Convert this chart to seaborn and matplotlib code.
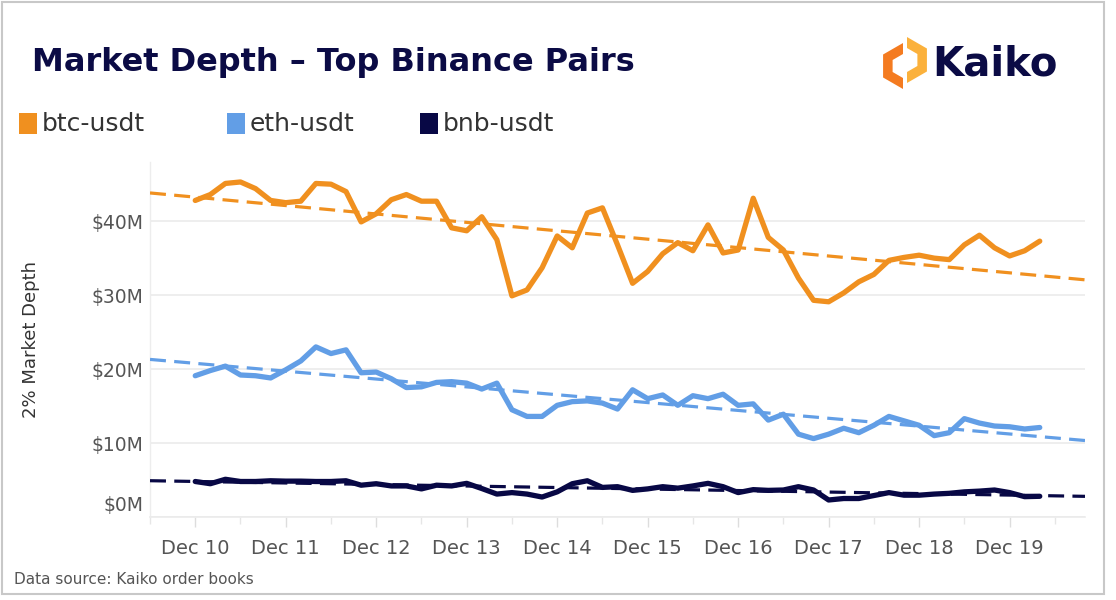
import numpy as np
import pandas as pd
import matplotlib
matplotlib.use("Agg")
import matplotlib.pyplot as plt
import matplotlib.dates as mdates
from matplotlib.patches import Rectangle, Polygon
from matplotlib.ticker import FixedLocator, FuncFormatter
from matplotlib.transforms import ScaledTranslation
import seaborn as sns

# 2% market depth, USD millions, one sample every 4 hours from Dec 10 00:00
btc_usdt = [42.8, 43.6, 45.1, 45.3, 44.4, 42.8, 42.5, 42.7, 45.1, 45.0,
            44.0, 39.9, 41.0, 42.9, 43.6, 42.7, 42.7, 39.1, 38.7, 40.6,
            37.5, 29.9, 30.7, 33.7, 38.0, 36.4, 41.1, 41.8, 36.8, 31.6,
            33.2, 35.6, 37.1, 36.0, 39.5, 35.7, 36.1, 43.1, 37.8, 36.1,
            32.3, 29.3, 29.1, 30.3, 31.8, 32.8, 34.7, 35.1, 35.4, 35.0,
            34.8, 36.8, 38.1, 36.4, 35.3, 36.0, 37.3]
eth_usdt = [19.1, 19.8, 20.4, 19.2, 19.1, 18.8, 19.9, 21.1, 23.0, 22.1,
            22.6, 19.5, 19.6, 18.7, 17.5, 17.6, 18.2, 18.3, 18.1, 17.3,
            18.1, 14.5, 13.6, 13.6, 15.1, 15.6, 15.7, 15.4, 14.6, 17.2,
            16.0, 16.5, 15.1, 16.4, 16.0, 16.6, 15.1, 15.3, 13.1, 13.9,
            11.2, 10.6, 11.2, 12.0, 11.4, 12.4, 13.6, 13.0, 12.4, 11.0,
            11.4, 13.3, 12.7, 12.3, 12.2, 11.9, 12.1]
bnb_usdt = [4.8, 4.5, 5.1, 4.8, 4.8, 4.9, 4.85, 4.85, 4.8, 4.8,
            4.9, 4.3, 4.5, 4.2, 4.2, 3.8, 4.3, 4.2, 4.55, 3.85,
            3.1, 3.3, 3.1, 2.7, 3.4, 4.5, 4.9, 4.0, 4.1, 3.6,
            3.8, 4.1, 3.9, 4.2, 4.55, 4.1, 3.3, 3.7, 3.6, 3.65,
            4.1, 3.65, 2.3, 2.5, 2.5, 2.9, 3.3, 2.95, 2.95, 3.1,
            3.2, 3.4, 3.5, 3.65, 3.3, 2.75, 2.8]
timestamps = pd.date_range("2021-12-10 00:00", periods=len(btc_usdt), freq="4h")

series_names = ["btc-usdt", "eth-usdt", "bnb-usdt"]
series_colors = ["#F0901F", "#629EE6", "#080845"]
y_ticks = [0, 10, 20, 30, 40]

df = pd.DataFrame({"x": mdates.date2num(timestamps.to_pydatetime()),
                   "btc-usdt": btc_usdt, "eth-usdt": eth_usdt, "bnb-usdt": bnb_usdt})

sns.set_theme(style="white")
plt.rcParams["font.family"] = ["DejaVu Sans"]

W, H = 1116, 600
fig = plt.figure(figsize=(W / 100, H / 100), dpi=100)
fig.patch.set_facecolor("white")
ax = fig.add_axes([150 / W, 1 - 517 / H, (1085 - 150) / W, (517 - 162) / H])

x_min = mdates.date2num(pd.Timestamp("2021-12-09 12:00"))
x_max = mdates.date2num(pd.Timestamp("2021-12-19 20:00"))
ax.set_xlim(x_min, x_max)
ax.set_ylim(0, 48)

for name, color in zip(series_names, series_colors):
    sns.lineplot(data=df, x="x", y=name, ax=ax, color=color, linewidth=3.8,
                 solid_joinstyle="round", solid_capstyle="round", zorder=3)
# linear trend of each pair, drawn across the full axis width
for name, color in zip(series_names, series_colors):
    sns.regplot(data=df, x="x", y=name, ax=ax, scatter=False, ci=None, truncate=False,
                color=color, line_kws={"linewidth": 2.3, "linestyle": (0, (5, 2.6)), "zorder": 4})

ax.set_xlim(x_min, x_max)
ax.set_ylim(0, 48)

ax.xaxis.set_major_locator(mdates.DayLocator())
ax.xaxis.set_major_formatter(mdates.DateFormatter("%b %d"))
ax.xaxis.set_minor_locator(mdates.HourLocator(byhour=[12]))
ax.yaxis.set_major_locator(FixedLocator(y_ticks))
ax.yaxis.set_major_formatter(FuncFormatter(lambda v, p: f"${v:.0f}M"))
ax.grid(axis="y", color="#ebebeb", linewidth=1.2)
ax.grid(axis="x", visible=False)
for side in ["top", "right"]:
    ax.spines[side].set_visible(False)
ax.spines["left"].set_color("#ededed")
ax.spines["bottom"].set_color("#ebebeb")
ax.spines["left"].set_linewidth(1)
ax.spines["bottom"].set_linewidth(1.2)
ax.tick_params(axis="x", which="major", length=7, width=1, color="#dddddd",
               labelsize=14, labelcolor="#555555", pad=9, bottom=True)
ax.tick_params(axis="x", which="minor", length=5, width=1, color="#e6e6e6", bottom=True)
ax.tick_params(axis="y", length=0, labelsize=13.5, labelcolor="#555555", pad=5)
ax.set_xlabel("")
ax.set_ylabel("2% Market Depth", fontsize=13, color="#333333")
ax.yaxis.set_label_coords(-0.118, 0.5)

# the $0M label sits a little above its gridline in the original
zero_label = ax.yaxis.get_major_ticks()[0].label1
zero_label.set_transform(zero_label.get_transform() + ScaledTranslation(0, 0.13, fig.dpi_scale_trans))

# title, logo, legend, source
fig.text(32 / W, 1 - 62 / H, "Market Depth \u2013 Top Binance Pairs", fontsize=23,
         fontweight="bold", color="#0B0B45", va="center", ha="left")
fig.text(932 / W, 1 - 64 / H, "Kaiko", fontsize=29, fontweight="bold",
         color="#0B0B45", va="center", ha="left")

cx, cy, r_out, r_in = 905, 63, 23, 12
ang = np.deg2rad([90, 150, 210, 270])
left_pts = [(cx + r_out * np.cos(a) - 2, cy - r_out * np.sin(a) + 3) for a in ang] + \
           [(cx + r_in * np.cos(a) - 2, cy - r_in * np.sin(a) + 3) for a in ang[::-1]]
ang_r = np.deg2rad([90, 30, -30, -90])
right_pts = [(cx + r_out * np.cos(a) + 2, cy - r_out * np.sin(a) - 3) for a in ang_r] + \
            [(cx + r_in * np.cos(a) + 2, cy - r_in * np.sin(a) - 3) for a in ang_r[::-1]]
for pts, col in [(left_pts, "#F47B20"), (right_pts, "#FBB13C")]:
    fig.add_artist(Polygon([(px / W, 1 - py / H) for px, py in pts], closed=True,
                           facecolor=col, edgecolor="none", transform=fig.transFigure))

legend_x = [19, 227, 420]
for name, color, lx in zip(series_names, series_colors, legend_x):
    fig.add_artist(Rectangle((lx / W, 1 - 134 / H), 18 / W, 21 / H, facecolor=color,
                             edgecolor="none", transform=fig.transFigure))
    fig.text((lx + 23) / W, 1 - 124 / H, name, fontsize=18, color="#333333",
             va="center", ha="left")

fig.text(14 / W, 1 - 580 / H, "Data source: Kaiko order books", fontsize=11,
         color="#555555", va="center", ha="left")

fig.add_artist(Rectangle((2 / W, 6 / H), 1102 / W, 592 / H, facecolor="none",
                         edgecolor="#c8c8c8", linewidth=1.5, transform=fig.transFigure))

fig.savefig("out.png", dpi=100)
